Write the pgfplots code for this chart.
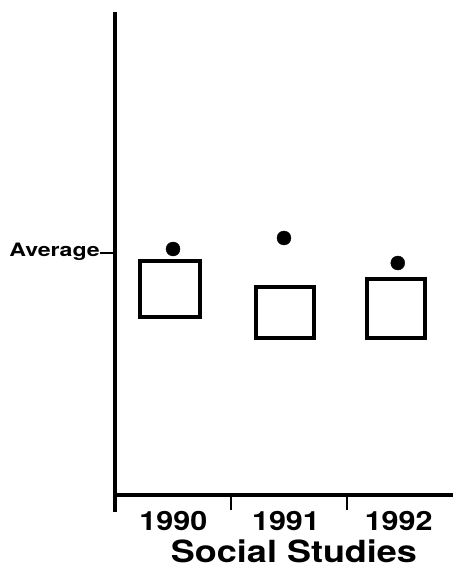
\documentclass[border=0pt]{standalone}
\usepackage{pgfplots}
\pgfplotsset{compat=1.18}
\usepackage{fontspec}
\setmainfont{TeX Gyre Heros}
\newfontfamily\avgfont[FakeStretch=1.25]{TeX Gyre Heros}
\newfontfamily\yearfont[FakeStretch=1.15]{TeX Gyre Heros}
\newfontfamily\titlefont[FakeStretch=1.18]{TeX Gyre Heros}
\begin{document}
\begin{tikzpicture}
\begin{axis}[
  scale only axis,
  width=338pt, height=483pt,
  xmin=-0.5, xmax=2.5,
  ymin=0, ymax=483,
  axis lines=left,
  axis line style={-, line width=3.4pt, black},
  every outer x axis line/.append style={line width=3.4pt},
  every outer y axis line/.append style={line width=3.4pt},
  clip=false,
  tick align=outside,
  major tick length=17pt,
  every major x tick/.append style={draw=none},
  every major y tick/.append style={draw=none},
  xtick={0,1,2},
  xticklabels={1990,1991,1992},
  xticklabel style={anchor=base, xshift=2pt, yshift=-18pt, inner sep=0pt, font=\yearfont\bfseries\fontsize{26.5}{26.5}\selectfont},
  ytick={242},
  yticklabels={Average},
  yticklabel style={anchor=base east, xshift=2pt, yshift=-4pt, inner sep=0pt, font=\avgfont\bfseries\fontsize{18.5}{18.5}\selectfont},
  xlabel={Social Studies},
  xlabel style={at={(axis description cs:0.5,0)}, anchor=base, yshift=-67pt, xshift=10pt, inner sep=0pt, font=\titlefont\bfseries\fontsize{30.5}{30.5}\selectfont},
]
% category separator ticks below the x axis (and y-axis extension)
\addplot[black, line width=3.4pt] coordinates {(-0.5,0) (-0.5,-17)};
\addplot[black, line width=2.6pt] coordinates {(0.53,0) (0.53,-15)};
\addplot[black, line width=2.6pt] coordinates {(1.56,0) (1.56,-15)};
% Average tick
\addplot[black, line width=2.2pt] coordinates {(-0.633,242) (-0.49,242)};
% boxes (low/high range per year)
\addplot[black, line width=3.2pt, line join=miter, line cap=rect] coordinates {(-0.278,178) (0.255,178) (0.255,234) (-0.278,234) (-0.278,178)};
\addplot[black, line width=3.2pt, line join=miter, line cap=rect] coordinates {(0.751,157) (1.266,157) (1.266,208) (0.751,208) (0.751,157)};
\addplot[black, line width=3.2pt, line join=miter, line cap=rect] coordinates {(1.736,157) (2.251,157) (2.251,216) (1.736,216) (1.736,157)};
% dots
\addplot[only marks, mark=*, mark size=7pt, black] coordinates {(0.015,246) (1,257) (2.01,232)};
\end{axis}
\pgfresetboundingbox
\path[use as bounding box] ([shift={(-115pt,-87pt)}]current axis.south west) rectangle ++(454pt,582pt);
\end{tikzpicture}
\end{document}
